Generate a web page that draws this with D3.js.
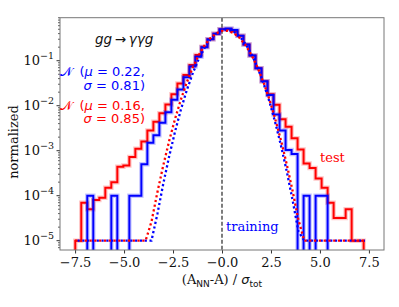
<!DOCTYPE html>
<html>
<head>
<meta charset="utf-8">
<script src="https://cdn.jsdelivr.net/npm/d3@7"></script>
<style>
body{margin:0;background:#fff}
svg{display:block}
</style>
</head>
<body>
<svg id="chart"></svg>
<script>
// histogram: 48 bins of equal width starting at binStart
var binStart = -7.49
var binWidth = 0.3067

// test sample (red)
var testVals = [1e-5, 7e-5, 5e-5, 8e-5, 9e-5, 1.5e-4, 2e-4, 4.4e-4, 4.7e-4, 7.2e-4,
    1.1e-3, 1.6e-3, 2.8e-3, 4.4e-3, 6.8e-3, 0.0107, 0.018, 0.031, 0.048, 0.08,
    0.134, 0.205, 0.30, 0.40, 0.50, 0.51, 0.45, 0.36, 0.23, 0.13,
    0.068, 0.035, 0.018, 0.0105, 5e-3, 3.4e-3, 1.9e-3, 1.07e-3, 5.2e-4, 4.1e-4,
    2.4e-4, 1.5e-4, 7e-5, 3.2e-5, 3.2e-5, 5e-5, 1e-5, 1e-5]

// training sample (blue)
var trainVals = [0, 0, 1e-4, 0, 0, 0, 1e-4, 0, 0, 1e-4,
    1e-4, 5e-4, 1.5e-3, 2.2e-3, 4.2e-3, 7.2e-3, 0.0135, 0.023, 0.043, 0.074,
    0.122, 0.20, 0.30, 0.40, 0.50, 0.52, 0.48, 0.36, 0.23, 0.13,
    0.068, 0.035, 0.0174, 6.4e-3, 2.8e-3, 1.04e-3, 8.5e-4, 0, 1e-4, 0,
    1e-4, 1e-4, 0, 0, 0, 0, 0, 0]

// dotted normal curves (floored at 1e-5 as in the picture)
var gaussX = [-7.5, -3.9, -3.6, -3.3, -3.0, -2.7, -2.4, -2.1, -1.8, -1.5, -1.2, -0.9, -0.6, -0.3,
    0, 0.3, 0.6, 0.9, 1.2, 1.5, 1.8, 2.1, 2.4, 2.7, 3.0, 3.3, 3.6, 3.9, 4.2, 7.3]
var gaussTrain = [1e-5, 1e-5, 1e-5, 3.9e-5, 1.82e-4, 7.4e-4, 2.63e-3, 8.15e-3, 0.022, 0.0516, 0.106, 0.189, 0.295, 0.401,
    0.474, 0.49, 0.442, 0.346, 0.237, 0.141, 0.0735, 0.0333, 0.0132, 4.54e-3, 1.36e-3, 3.57e-4, 8.1e-5, 1.62e-5, 1e-5, 1e-5]
var gaussTest = [1e-5, 1e-5, 2.64e-5, 1.18e-4, 4.68e-4, 1.63e-3, 5.03e-3, 0.0137, 0.0329, 0.0697, 0.1305, 0.216, 0.315, 0.406,
    0.461, 0.463, 0.41, 0.321, 0.222, 0.1355, 0.073, 0.0347, 0.0146, 5.4e-3, 1.77e-3, 5.1e-4, 1.3e-4, 2.93e-5, 1e-5, 1e-5]

var xTicks = [-7.5, -5, -2.5, 0, 2.5, 5, 7.5]
var xTickLabels = ["\u22127.5", "\u22125.0", "\u22122.5", "\u22120.0", "2.5", "5.0", "7.5"]
var yExponents = [-5, -4, -3, -2, -1]

var blue = "#0000ff", red = "#ff0000"

var screen = {width: 399, height: 307}
var margins = {top: 17.7, right: 15, bottom: 57, left: 60}
var width = screen.width - margins.left - margins.right
var height = screen.height - margins.top - margins.bottom

var svg = d3.select("#chart")
    .attr("width", screen.width)
    .attr("height", screen.height)

var g = svg.append("g")
    .attr("transform", "translate(" + margins.left + "," + margins.top + ")")

var xScale = d3.scaleLinear()
    .domain([-8.27, 8.27])
    .range([0, width])

var yScale = d3.scaleLog()
    .domain([Math.pow(10, -5.207), Math.pow(10, -0.044)])
    .range([height, 0])

svg.append("defs").append("clipPath").attr("id", "plotclip")
    .append("rect").attr("width", width).attr("height", height)

var edges = d3.range(testVals.length + 1).map(function(k){ return binStart + binWidth * k })

var stepPoints = function(vals){
    var pts = [[edges[0], 0]]
    vals.forEach(function(v, i){
        pts.push([edges[i], v])
        pts.push([edges[i + 1], v])
    })
    pts.push([edges[edges.length - 1], 0])
    return pts
}

var line = d3.line()
    .x(function(d){ return xScale(d[0]) })
    .y(function(d){ return d[1] > 0 ? yScale(d[1]) : height + 6 })

var plot = g.append("g").attr("clip-path", "url(#plotclip)")

// dashed line at zero
plot.append("line")
    .attr("x1", xScale(0)).attr("x2", xScale(0))
    .attr("y1", 0).attr("y2", height)
    .attr("stroke", "#111")
    .attr("stroke-width", 1.1)
    .attr("stroke-dasharray", "4,2")

var drawHist = function(vals, color){
    var d = line(stepPoints(vals))
    plot.append("path").attr("d", d)
        .attr("fill", "none").attr("stroke", color)
        .attr("stroke-width", 4.5).attr("stroke-opacity", 0.22)
    plot.append("path").attr("d", d)
        .attr("fill", "none").attr("stroke", color)
        .attr("stroke-width", 2)
}
drawHist(testVals, red)
drawHist(trainVals, blue)

var drawGauss = function(vals, color, offset){
    plot.append("path")
        .datum(gaussX.map(function(x, i){ return [x, vals[i]] }))
        .attr("d", line)
        .attr("fill", "none")
        .attr("stroke", color)
        .attr("stroke-width", 2.3)
        .attr("stroke-dasharray", "2.2,2.6")
        .attr("stroke-dashoffset", offset)
}
drawGauss(gaussTrain, blue, 2.4)
drawGauss(gaussTest, red, 0)

// axes
var axisColor = "#777"
var xAxis = d3.axisBottom(xScale).tickValues(xTicks)
    .tickFormat(function(d, i){ return xTickLabels[i] })
    .tickSizeOuter(0).tickSize(3.5).tickPadding(4)
var gx = g.append("g").attr("transform", "translate(0," + height + ")").call(xAxis)
gx.attr("font-family", "DejaVu Serif").attr("font-size", 13)
gx.select(".domain").remove()
gx.selectAll(".tick line").attr("stroke", "#333")
gx.selectAll("text").attr("fill", "#111")

var minor = []
d3.range(-6, 0).forEach(function(e){
    d3.range(2, 10).forEach(function(m){
        var v = m * Math.pow(10, e)
        if (v > yScale.domain()[0] && v < yScale.domain()[1]) minor.push(v)
    })
})
g.append("g").selectAll("line").data(minor).enter().append("line")
    .attr("x1", -2).attr("x2", 0)
    .attr("y1", function(d){ return yScale(d) })
    .attr("y2", function(d){ return yScale(d) })
    .attr("stroke", "#333").attr("stroke-width", 0.8)

var gy = g.append("g")
gy.selectAll("line").data(yExponents).enter().append("line")
    .attr("x1", -3.5).attr("x2", 0)
    .attr("y1", function(e){ return yScale(Math.pow(10, e)) })
    .attr("y2", function(e){ return yScale(Math.pow(10, e)) })
    .attr("stroke", "#333")
var ylab = gy.selectAll("text").data(yExponents).enter().append("text")
    .attr("x", -6)
    .attr("y", function(e){ return yScale(Math.pow(10, e)) + 4.5 })
    .attr("text-anchor", "end")
    .attr("font-family", "DejaVu Serif")
    .attr("fill", "#111")
ylab.append("tspan").attr("font-size", 13).text("10")
ylab.append("tspan").attr("font-size", 9.5).attr("dy", -6)
    .text(function(e){ return "\u2212" + (-e) })

g.append("rect")
    .attr("width", width).attr("height", height)
    .attr("fill", "none").attr("stroke", axisColor).attr("stroke-width", 1)

// labels
svg.append("text")
    .attr("transform", "translate(18,142) rotate(-90)")
    .attr("text-anchor", "middle")
    .attr("font-family", "DejaVu Serif").attr("font-size", 13)
    .attr("fill", "#111")
    .text("normalized")

var xl = svg.append("text")
    .attr("x", margins.left + width / 2).attr("y", 284)
    .attr("text-anchor", "middle")
    .attr("font-family", "DejaVu Serif").attr("font-size", 13)
    .attr("fill", "#111")
xl.append("tspan").text("(A")
xl.append("tspan").attr("font-family", "DejaVu Sans").attr("font-size", 9).attr("dy", 2.5).text("NN")
xl.append("tspan").attr("dy", -2.5).text("-A) / ")
xl.append("tspan").attr("font-family", "DejaVu Sans").attr("font-style", "italic").text("\u03c3")
xl.append("tspan").attr("font-family", "DejaVu Sans").attr("font-size", 9).attr("dy", 2.5).text("tot")

var proc = svg.append("text")
    .attr("x", 95).attr("y", 44)
    .attr("font-family", "DejaVu Sans").attr("font-size", 13.5)
    .attr("fill", "#111")
proc.append("tspan").attr("font-style", "italic").text("gg")
proc.append("tspan").text("\u2009\u2192\u2009")
proc.append("tspan").attr("font-style", "italic").text("\u03b3\u03b3g")

var fitText = function(color, mu, sigma, y){
    var t1 = svg.append("text").attr("x", 145).attr("y", y)
        .attr("text-anchor", "end")
        .attr("font-family", "DejaVu Sans").attr("font-size", 13)
        .attr("fill", color)
    t1.append("tspan").text("\ud835\udca9")
    t1.append("tspan").attr("dx", 7).text("(")
    t1.append("tspan").attr("font-style", "italic").text("\u03bc")
    t1.append("tspan").text(" = " + mu + ",")
    var t2 = svg.append("text").attr("x", 145).attr("y", y + 13.5)
        .attr("text-anchor", "end")
        .attr("font-family", "DejaVu Sans").attr("font-size", 13)
        .attr("fill", color)
    t2.append("tspan").attr("font-style", "italic").text("\u03c3")
    t2.append("tspan").text(" = " + sigma + ")")
}
fitText(blue, "0.22", "0.81", 76)
fitText(red, "0.16", "0.85", 109.5)

svg.append("text")
    .attr("x", 320).attr("y", 162)
    .attr("font-family", "DejaVu Serif").attr("font-size", 13)
    .attr("fill", red)
    .text("test")

svg.append("text")
    .attr("x", 226).attr("y", 231)
    .attr("font-family", "DejaVu Serif").attr("font-size", 13)
    .attr("fill", blue)
    .text("training")
</script>
</body>
</html>
